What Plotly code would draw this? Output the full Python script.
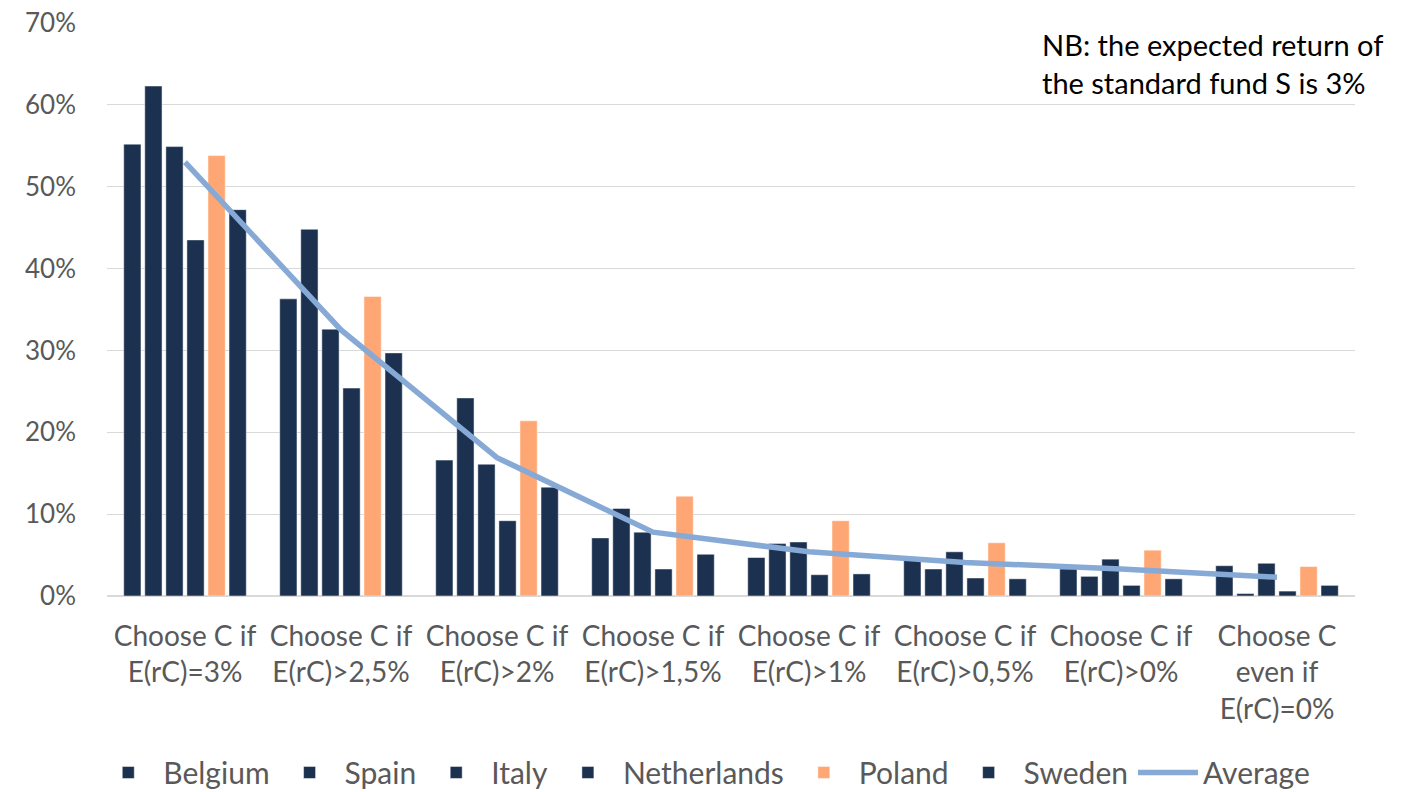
import plotly.graph_objects as go

categories = [
    "Choose C if<br>E(rC)=3%",
    "Choose C if<br>E(rC)>2,5%",
    "Choose C if<br>E(rC)>2%",
    "Choose C if<br>E(rC)>1,5%",
    "Choose C if<br>E(rC)>1%",
    "Choose C if<br>E(rC)>0,5%",
    "Choose C if<br>E(rC)>0%",
    "Choose C<br>even if<br>E(rC)=0%",
]

belgium = [55.2, 36.3, 16.6, 7.1, 4.7, 4.4, 3.3, 3.7]
spain = [62.3, 44.8, 24.2, 10.7, 6.4, 3.3, 2.4, 0.3]
italy = [54.9, 32.6, 16.1, 7.8, 6.6, 5.4, 4.5, 4.0]
netherlands = [43.5, 25.4, 9.2, 3.3, 2.6, 2.2, 1.3, 0.6]
poland = [53.8, 36.6, 21.4, 12.2, 9.2, 6.5, 5.6, 3.6]
sweden = [47.2, 29.7, 13.3, 5.1, 2.7, 2.1, 2.1, 1.3]
average = [53.0, 32.5, 16.9, 7.8, 5.4, 4.1, 3.3, 2.3]

series = [
    ("Belgium", belgium, "#1c3150"),
    ("Spain", spain, "#1c3150"),
    ("Italy", italy, "#1c3150"),
    ("Netherlands", netherlands, "#1c3150"),
    ("Poland", poland, "#ffa774"),
    ("Sweden", sweden, "#1c3150"),
]

FONT = "Lato, 'Open Sans', sans-serif"

fig = go.Figure()
for name, vals, color in series:
    fig.add_trace(go.Bar(
        x=categories, y=[v / 100 for v in vals], name=name,
        marker=dict(color=color, line=dict(color="rgba(255,255,255,0.6)", width=0.8)),
    ))

fig.add_trace(go.Scatter(
    x=categories, y=[v / 100 for v in average], name="Average",
    mode="lines", line=dict(color="#86a9d6", width=5.5),
))

fig.add_annotation(
    text="NB: the expected return of<br>the standard fund S is 3%",
    xref="paper", yref="paper", x=0.7475, y=0.996, xanchor="left", yanchor="top",
    align="left", showarrow=False, font=dict(size=29, color="#000000", family=FONT),
)

fig.update_layout(
    width=1403, height=792,
    paper_bgcolor="white", plot_bgcolor="white",
    margin=dict(l=107, r=48, t=23, b=196, autoexpand=False),
    barmode="group", bargap=0.19, bargroupgap=0.18,
    font=dict(family=FONT, size=26, color="#595959"),
    showlegend=True,
    legend=dict(orientation="h", x=-0.011, y=-0.308, yanchor="middle", xanchor="left",
                font=dict(size=30, color="#595959"), itemwidth=60,
                traceorder="normal"),
    xaxis=dict(showgrid=False, showline=False, ticks="", automargin=False,
               ticklabelstandoff=21,
               tickfont=dict(size=28, color="#595959")),
    yaxis=dict(range=[0, 0.7], dtick=0.1, tickformat=".0%", automargin=False,
               showgrid=True, gridcolor="#d9d9d9", gridwidth=1.3,
               zeroline=True, zerolinecolor="#d9d9d9", zerolinewidth=1.5,
               showline=False, ticks="", ticklabelstandoff=30,
               tickfont=dict(size=26, color="#595959")),
)

fig.write_html("out.html", config={"displayModeBar": False},
               post_script="document.body.style.margin='0';")
